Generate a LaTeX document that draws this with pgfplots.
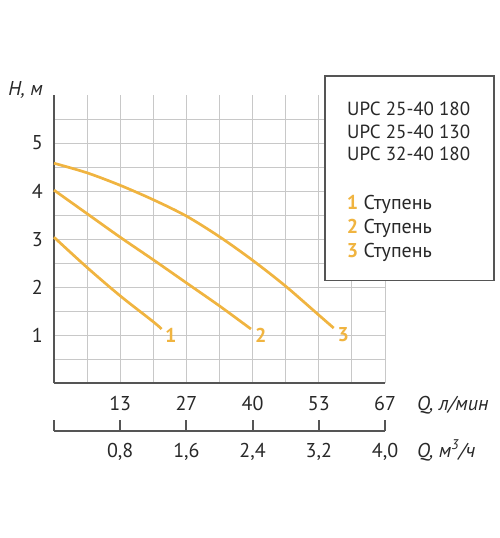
\documentclass[border=0pt]{standalone}
\usepackage{pgfplots}
\pgfplotsset{compat=1.18}
\usepackage{fontspec}
\setmainfont{PT Sans}
\definecolor{curve}{RGB}{240,180,64}
\definecolor{axisgray}{RGB}{85,85,85}
\definecolor{gridgray}{RGB}{200,200,200}
\definecolor{txt}{RGB}{40,40,40}
\begin{document}
\fontsize{20}{24}\selectfont
\begin{tikzpicture}[every node/.style={text=txt}]
\path[use as bounding box] (-54pt,-154.7pt) rectangle (446pt,383.3pt);
\begin{axis}[
    at={(0pt,0pt)}, anchor=south west,
    scale only axis, width=331pt, height=288.3pt,
    xmin=0, xmax=4, ymin=0, ymax=6,
    axis x line=bottom, axis y line=left,
    axis line style={-, draw=axisgray, line width=2pt},
    xtick={0.8,1.6,2.4,3.2,4.0},
    xticklabels={13,27,40,53,67},
    minor xtick={0.4,1.2,2.0,2.8,3.6},
    ytick={1,2,3,4,5},
    yticklabels={1,2,3,4,5},
    minor ytick={0.5,1.5,2.5,3.5,4.5,5.5},
    major tick length=0pt, minor tick length=0pt,
    grid=both,
    major grid style={draw=gridgray, line width=1pt},
    minor grid style={draw=gridgray, line width=1pt},
    xticklabel style={anchor=north, inner sep=0pt, yshift=-12.7pt},
    yticklabel style={anchor=east, inner sep=0pt, xshift=-11pt},
    clip=false,
]
\addplot[curve, line width=2.7pt, smooth] coordinates {
    (0,3.04) (0.4,2.41) (0.8,1.82) (1.2,1.28) (1.30,1.13)};
\addplot[curve, line width=2.7pt, smooth] coordinates {
    (0,4.02) (0.4,3.53) (0.8,3.04) (1.2,2.57) (1.6,2.09) (2.0,1.61) (2.38,1.13)};
\addplot[curve, line width=2.7pt, smooth] coordinates {
    (0,4.58) (0.4,4.38) (0.8,4.12) (1.2,3.82) (1.6,3.48) (2.0,3.05) (2.4,2.56) (2.8,2.02) (3.2,1.42) (3.38,1.15)};
\node[text=curve, font=\bfseries] at (axis cs:1.41,1.006) {1};
\node[text=curve, font=\bfseries] at (axis cs:2.50,1.006) {2};
\node[text=curve, font=\bfseries] at (axis cs:3.496,1.02) {3};
\end{axis}
\begin{axis}[
    at={(0pt,-47.7pt)}, anchor=south west,
    scale only axis, width=331pt, height=10pt,
    xmin=0, xmax=4, ymin=0, ymax=1,
    axis x line=bottom, axis y line=none,
    axis line style={-, draw=axisgray, line width=2pt},
    xtick={0,0.8,1.6,2.4,3.2,4.0},
    xticklabels={{},{0,8},{1,6},{2,4},{3,2},{4,0}},
    ytick=\empty,
    tick align=inside, major tick length=11pt,
    tick style={draw=axisgray, line width=2pt},
    xticklabel style={anchor=north, inner sep=0pt, yshift=-12pt},
]
\addplot[draw=none] coordinates {(0,0) (4,1)};
\end{axis}
% axis titles
\node[anchor=base east, inner sep=0pt] at (-11pt,287.3pt) {\itshape H, м};
\node[anchor=base west, inner sep=0pt] at (363pt,-26.7pt) {\itshape Q, л/мин};
\node[anchor=base west, inner sep=0pt] at (363pt,-73.7pt) {\itshape Q, м\textsuperscript{3}/ч};
% legend box
\draw[draw=axisgray, line width=1.5pt, fill=white] (271pt,102.6pt) rectangle (440pt,307.3pt);
\begin{scope}[every node/.append style={font=\fontsize{19}{23}\selectfont}]
\node[anchor=base west, inner sep=0pt] at (293pt,267.6pt) {UPC 25-40 180};
\node[anchor=base west, inner sep=0pt] at (293pt,245.0pt) {UPC 25-40 130};
\node[anchor=base west, inner sep=0pt] at (293pt,222.3pt) {UPC 32-40 180};
\end{scope}
\node[anchor=base west, inner sep=0pt] at (292.7pt,173.3pt) {\textcolor{curve}{\bfseries 1} Ступень};
\node[anchor=base west, inner sep=0pt] at (292.7pt,149.3pt) {\textcolor{curve}{\bfseries 2} Ступень};
\node[anchor=base west, inner sep=0pt] at (292.7pt,126.0pt) {\textcolor{curve}{\bfseries 3} Ступень};
\end{tikzpicture}
\end{document}
